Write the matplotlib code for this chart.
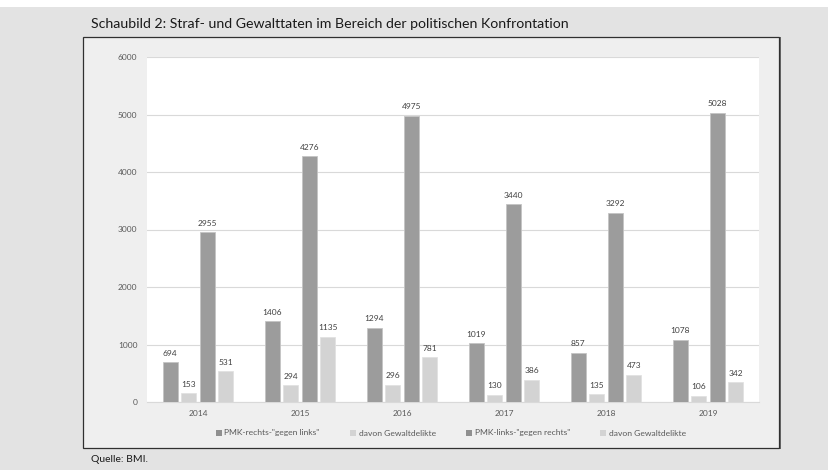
import matplotlib
matplotlib.use("Agg")
import matplotlib.pyplot as plt
from matplotlib.patches import Rectangle
import numpy as np

years = ["2014", "2015", "2016", "2017", "2018", "2019"]
rechts_gegen_links = [694, 1406, 1294, 1019, 857, 1078]
rechts_gewalt = [153, 294, 296, 130, 135, 106]
links_gegen_rechts = [2955, 4276, 4975, 3440, 3292, 5028]
links_gewalt = [531, 1135, 781, 386, 473, 342]
series_labels = ['PMK-rechts-"gegen links"', 'davon Gewaltdelikte',
                 'PMK-links-"gegen rechts"', 'davon Gewaltdelikte']
yticks = [0, 1000, 2000, 3000, 4000, 5000, 6000]

plt.rcParams['font.family'] = ['Lato', 'DejaVu Sans']

W, H = 829, 470
fig = plt.figure(figsize=(W / 100, H / 100), dpi=100)
fig.patch.set_facecolor('#e3e3e3')

def fx(x):
    return x / W

def fy(y):
    return 1 - y / H

# white top band
fig.add_artist(Rectangle((0, fy(7)), 1, 7 / H, transform=fig.transFigure,
                         facecolor='white', edgecolor='none', zorder=0))
# shadow and box
fig.add_artist(Rectangle((fx(84), fy(449)), (780 - 83) / W, (449 - 37) / H,
                         transform=fig.transFigure, facecolor='#6a6a6a',
                         edgecolor='none', zorder=0))
fig.add_artist(Rectangle((fx(83), fy(447.5)), (779 - 83) / W, (447.5 - 37) / H,
                         transform=fig.transFigure, facecolor='#efefef',
                         edgecolor='#303030', linewidth=0.9, zorder=0))

fig.text(fx(91), fy(23.5), "Schaubild 2: Straf- und Gewalttaten im Bereich der politischen Konfrontation",
         fontsize=10.2, color='#1a1a1a', ha='left', va='center')
fig.text(fx(91), fy(460), "Quelle: BMI.", fontsize=7.5, color='#1a1a1a', ha='left', va='center')

ax = fig.add_axes([fx(147), fy(402), (759 - 147) / W, (402 - 57) / H])
ax.set_facecolor('white')

x = np.arange(len(years))
width = 0.145
step = 0.182
data = [rechts_gegen_links, rechts_gewalt, links_gegen_rechts, links_gewalt]
fills = ['#9c9c9c', '#d3d3d3', '#9c9c9c', '#d3d3d3']
edges = ['#c4c4c4', '#e2e2e2', '#c4c4c4', '#e2e2e2']
for i, (vals, fc, ec) in enumerate(zip(data, fills, edges)):
    bars = ax.bar(x + (i - 1.5) * step, vals, width, color=fc, edgecolor=ec,
                  linewidth=0.6, zorder=3, label=series_labels[i])
    ax.bar_label(bars, labels=[str(v) for v in vals], padding=4, fontsize=6,
                 color='#404040')

ax.set_xlim(-0.5, len(years) - 0.5)
ax.set_ylim(0, 6000)
ax.set_yticks(yticks)
ax.set_yticklabels([str(t) for t in yticks])
ax.set_xticks(x)
ax.set_xticklabels(years)
ax.tick_params(axis='both', length=0, labelsize=6, labelcolor='#595959')
ax.tick_params(axis='y', pad=7)
ax.tick_params(axis='x', pad=6)
ax.grid(axis='y', color='#d9d9d9', linewidth=0.8, zorder=0)
ax.set_axisbelow(True)
for s in ['top', 'right', 'left']:
    ax.spines[s].set_visible(False)
ax.spines['bottom'].set_color('#d9d9d9')
ax.spines['bottom'].set_linewidth(0.8)

leg_handles = [Rectangle((0, 0), 1, 1, facecolor=c, edgecolor='none') for c in ['#8f8f8f', '#d3d3d3', '#8f8f8f', '#d3d3d3']]
leg = fig.legend(leg_handles, series_labels, loc='center', ncol=4,
                 bbox_to_anchor=(fx(451), fy(433)), frameon=False,
                 fontsize=6.1, handlelength=0.7, handleheight=0.7,
                 handletextpad=0.3, columnspacing=3.6, labelcolor='#595959')

fig.savefig('out.png', dpi=100, facecolor=fig.get_facecolor())
